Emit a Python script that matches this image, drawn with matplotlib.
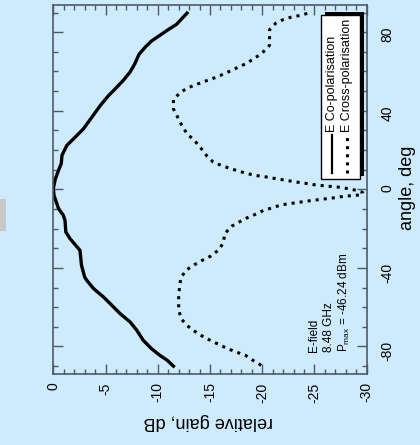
import matplotlib
matplotlib.use("Agg")
import matplotlib.pyplot as plt
from matplotlib.patches import Rectangle
from matplotlib.lines import Line2D
from matplotlib.ticker import MultipleLocator

plt.rcParams['font.family'] = ['Liberation Sans', 'DejaVu Sans']
plt.rcParams['axes.unicode_minus'] = False
plt.rcParams['mathtext.fontset'] = 'custom'
plt.rcParams['mathtext.rm'] = 'Liberation Sans'
plt.rcParams['mathtext.it'] = 'Liberation Sans:italic'

# E-plane pattern, co-polar component: angle (deg) and relative gain (dB)
co_angle = [-90, -87, -84.5, -81.1, -76.8, -71.8, -67.5, -63.3, -59, -54.8,
            -50.5, -46.3, -44.6, -38.7, -31, -25.1, -21.7, -15.8, -13.2, -9.8,
            -3.1, 0.4, 5.4, 9.7, 13.1, 17.3, 22.4, 26.6, 30.9, 36.8,
            42.7, 47.8, 52.1, 55.5, 59.7, 63.9, 68.7, 72.4, 75.5, 78.4,
            81.3, 84, 86.9, 89.7]
co_gain = [-11.5, -10.9, -10.2, -9.4, -8.6, -8.0, -7.35, -6.4, -5.6, -4.8,
           -3.85, -3.2, -3.0, -2.7, -2.55, -1.6, -1.2, -1.12, -0.96, -0.5,
           -0.07, 0.0, -0.2, -0.5, -0.76, -0.83, -1.3, -2.1, -2.9, -3.7,
           -4.5, -5.3, -6.1, -6.7, -7.35, -7.8, -8.2, -8.8, -9.4, -10.2,
           -11.0, -11.8, -12.3, -12.8]

# E-plane pattern, cross-polar component
cross_angle = [-89.6, -87, -84.5, -82.8, -81.1, -79.4, -75.2, -71.8, -69.7, -66.3,
               -61.6, -57.9, -53.9, -49.4, -45.1, -41.2, -38.7, -36.3, -33.9, -30.5,
               -26.8, -22.6, -18.7, -16.3, -14.1, -12.4, -10.7, -9.5, -8.1, -7.3,
               -6.8, -6.1, -5.6, -5.0, -4.6, -4.0, -3.5, -3.1, -2.7, -1.5,
               -0.5, 0.4, 1.2, 1.7, 2.4, 3.1, 3.7, 4.4, 5.1, 5.8,
               6.5, 7.1, 8.0, 9.2, 10.5, 11.9, 13.9, 17.0, 21.2, 24.9,
               28.3, 32.6, 36.8, 41.0, 45.8, 49.5, 51.7, 53.4, 55.0, 56.5,
               58.0, 59.9, 61.9, 63.9, 66.5, 69.4, 73.3, 77.2, 81.3, 84.6,
               86.4, 87.7, 88.5, 89.7]
cross_gain = [-19.9, -19.1, -18.4, -17.5, -16.7, -16.0, -14.4, -13.4, -12.9, -12.3,
              -12.0, -12.0, -12.0, -12.1, -12.2, -12.7, -13.4, -14.2, -15.1, -15.9,
              -16.3, -16.4, -17.1, -17.9, -18.7, -19.5, -20.1, -20.9, -21.7, -22.5,
              -23.3, -24.1, -24.9, -25.7, -26.5, -27.2, -27.9, -28.8, -29.6, -29.6,
              -29.0, -28.2, -27.2, -26.1, -24.9, -24.1, -23.3, -22.5, -21.7, -20.9,
              -20.2, -19.3, -18.6, -17.8, -17.0, -16.2, -15.3, -14.7, -14.1, -13.5,
              -12.8, -12.3, -11.9, -11.5, -11.5, -12.2, -12.9, -13.7, -14.5, -15.3,
              -16.0, -16.8, -17.6, -18.4, -19.2, -20.0, -20.7, -20.7, -20.7, -21.3,
              -22.0, -22.8, -23.6, -24.4]

series_labels = ['E Co-polarisation', 'E Cross-polarisation']
info_lines = ['E-field', '8.48 GHz', r'P$_{\rm max}$ = -46.24 dBm']

BG = '#cdebfd'
AXC = '#505a64'
W, H = 420, 445

fig = plt.figure(figsize=(W / 100, H / 100), dpi=100, facecolor=BG)
ax = fig.add_axes([53.3 / W, 1 - 374 / H, 313.4 / W, 369.3 / H], facecolor=BG)

ax.plot(co_gain, co_angle, color='black', lw=2.4, solid_joinstyle='round')
ax.plot(cross_gain, cross_angle, color='black', lw=2.2, ls=':')

ax.set_xlim(0, -30)
ax.set_ylim(-94, 94)

ax.xaxis.set_major_locator(MultipleLocator(5))
ax.xaxis.set_minor_locator(MultipleLocator(1))
ax.yaxis.set_major_locator(MultipleLocator(40))
ax.yaxis.set_minor_locator(MultipleLocator(10))

for s in ax.spines.values():
    s.set_color(AXC)
    s.set_linewidth(1.2)

ax.tick_params(which='both', direction='in', top=True, bottom=True, left=True,
               right=True, labelleft=False, labelright=True, color=AXC,
               labelcolor='black', width=1.0)
ax.tick_params(which='major', length=7)
ax.tick_params(which='minor', length=3.5)
ax.tick_params(axis='x', which='major', labelsize=10, labelrotation=90, pad=6)
ax.tick_params(axis='y', which='major', labelsize=10, labelrotation=90, pad=10)

fig.text(208 / W, 1 - 421.7 / H, 'relative gain, dB', rotation=180,
         ha='center', va='center', fontsize=13)
fig.text(407 / W, 1 - 187.5 / H, 'angle, deg', rotation=90,
         ha='center', va='center', fontsize=13)

# legend drawn turned with the plot
lx, ly, lw_, lh = 0.853, 0.528, 0.126, 0.444
ax.add_patch(Rectangle((lx + 0.0128, ly + 0.008), lw_, lh, transform=ax.transAxes,
                       facecolor='black', edgecolor='none', zorder=5))
ax.add_patch(Rectangle((lx, ly), lw_, lh, transform=ax.transAxes,
                       facecolor='white', edgecolor='black', lw=1, zorder=6))
hx = [0.890, 0.936]
styles = ['-', ':']
for x, st, lab in zip(hx, styles, series_labels):
    ax.add_line(Line2D([x, x], [0.544, 0.647], transform=ax.transAxes,
                       color='black', lw=2.2 if st == ':' else 1.6, ls=st, zorder=7))
    ax.text(x, 0.656, lab, transform=ax.transAxes, rotation=90, ha='center',
            va='bottom', fontsize=9, zorder=7)

for x, line in zip([0.833, 0.881, 0.930], info_lines):
    ax.text(x, 0.060, line, transform=ax.transAxes, rotation=90, ha='center',
            va='bottom', fontsize=8.5)

fig.patches.append(Rectangle((0, 1 - 231 / H), 6 / W, 32 / H,
                             transform=fig.transFigure, facecolor='#c8c8c8',
                             edgecolor='none'))

fig.savefig('out.png', dpi=100, facecolor=BG)
